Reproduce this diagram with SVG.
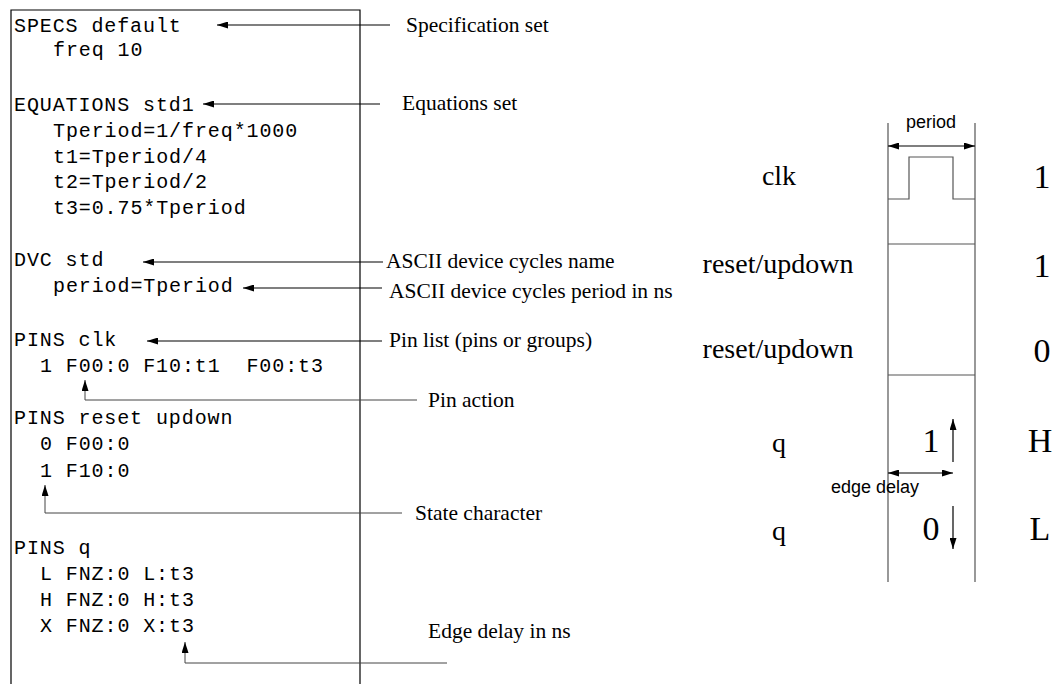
<svg xmlns="http://www.w3.org/2000/svg" width="1056" height="684" viewBox="0 0 1056 684">
<style>
.code{font-family:"Liberation Mono","Courier New",monospace;font-size:20px;letter-spacing:0.9px;fill:#000;white-space:pre}
.lab{font-family:"Liberation Serif","Times New Roman",serif;font-size:21.5px;fill:#000}
.sig{font-family:"Liberation Serif","Times New Roman",serif;font-size:28px;fill:#000;text-anchor:middle}
.big{font-family:"Liberation Serif","Times New Roman",serif;font-size:34px;fill:#000;text-anchor:middle}
.sans{font-family:"Liberation Sans",Arial,sans-serif;font-size:18px;fill:#000}
.ln{fill:none;stroke:#000;stroke-width:1.2}
.ln2{fill:none;stroke:#444;stroke-width:1}
.tl{fill:none;stroke:#555;stroke-width:1.2}
</style>
<defs>
<marker id="ah" viewBox="0 0 11 7" refX="11" refY="3.5" markerWidth="11" markerHeight="7" orient="auto-start-reverse" markerUnits="userSpaceOnUse"><path d="M0,0 L11,3.5 L0,7 z" fill="#000"/></marker>
</defs>
<rect width="1056" height="684" fill="#fff"/>
<g id="code-panel">
<path class="ln" d="M11,684 V10 H360 V684"/>
<text class="code" x="14" y="32">SPECS default</text>
<text class="code" x="53" y="56">freq 10</text>
<text class="code" x="14" y="111">EQUATIONS std1</text>
<text class="code" x="53" y="137">Tperiod=1/freq*1000</text>
<text class="code" x="53" y="163">t1=Tperiod/4</text>
<text class="code" x="53" y="188">t2=Tperiod/2</text>
<text class="code" x="53" y="214">t3=0.75*Tperiod</text>
<text class="code" x="14" y="266">DVC std</text>
<text class="code" x="53" y="292">period=Tperiod</text>
<text class="code" x="14" y="346">PINS clk</text>
<text class="code" x="40" y="372" xml:space="preserve">1 F00:0 F10:t1  F00:t3</text>
<text class="code" x="14" y="424">PINS reset updown</text>
<text class="code" x="40" y="450">0 F00:0</text>
<text class="code" x="40" y="477">1 F10:0</text>
<text class="code" x="14" y="554">PINS q</text>
<text class="code" x="40" y="580">L FNZ:0 L:t3</text>
<text class="code" x="40" y="606">H FNZ:0 H:t3</text>
<text class="code" x="40" y="632">X FNZ:0 X:t3</text>
</g>
<g id="labels">
<text id="lab-spec" class="lab" x="406" y="32">Specification set</text>
<text id="lab-eq" class="lab" x="402" y="110">Equations set</text>
<text id="lab-dvcname" class="lab" x="386" y="268">ASCII device cycles name</text>
<text id="lab-dvcper" class="lab" x="389" y="298">ASCII device cycles period in ns</text>
<text id="lab-pins" class="lab" x="389" y="347">Pin list (pins or groups)</text>
<text id="lab-action" class="lab" x="428" y="407">Pin action</text>
<text id="lab-state" class="lab" x="415" y="520">State character</text>
<text id="lab-edge" class="lab" x="428" y="638">Edge delay in ns</text>
</g>
<g id="connectors">
<path class="ln" d="M390,25 H217" marker-end="url(#ah)"/>
<path class="ln" d="M380,104 H203" marker-end="url(#ah)"/>
<path class="ln" d="M383,262 H143" marker-end="url(#ah)"/>
<path class="ln" d="M382,288 H243" marker-end="url(#ah)"/>
<path class="ln" d="M382,341 H147" marker-end="url(#ah)"/>
<path class="ln2" d="M417,400 H85 V380" marker-end="url(#ah)"/>
<path class="ln2" d="M402,513 H45 V485" marker-end="url(#ah)"/>
<path class="ln2" d="M447,663 H185 V642" marker-end="url(#ah)"/>
</g>
<g id="timing">
<path class="tl" d="M888,123 V582 M975,123 V582 M888,244 H975 M888,375 H975"/>
<path class="tl" d="M888,199 H909 V157 H953 V199 H975"/>
<path class="ln" d="M888,146 H975" marker-start="url(#ah)" marker-end="url(#ah)"/>
<text class="sans" x="931" y="128" text-anchor="middle">period</text>
<path class="ln" d="M888,473 H953" marker-start="url(#ah)" marker-end="url(#ah)"/>
<text class="sans" x="831" y="493">edge delay</text>
<path class="ln" d="M953,462 V419" marker-end="url(#ah)"/>
<path class="ln" d="M953,506 V549" marker-end="url(#ah)"/>
<text class="big" x="931" y="452">1</text>
<text class="big" x="931" y="540">0</text>
<text class="sig" x="779" y="185">clk</text>
<text class="sig" x="778" y="273">reset/updown</text>
<text class="sig" x="778" y="358">reset/updown</text>
<text class="sig" x="779" y="452">q</text>
<text class="sig" x="779" y="540">q</text>
<text class="big" x="1042" y="188">1</text>
<text class="big" x="1042" y="277">1</text>
<text class="big" x="1042" y="362">0</text>
<text class="big" x="1040" y="452">H</text>
<text class="big" x="1040" y="540">L</text>
</g>
</svg>
